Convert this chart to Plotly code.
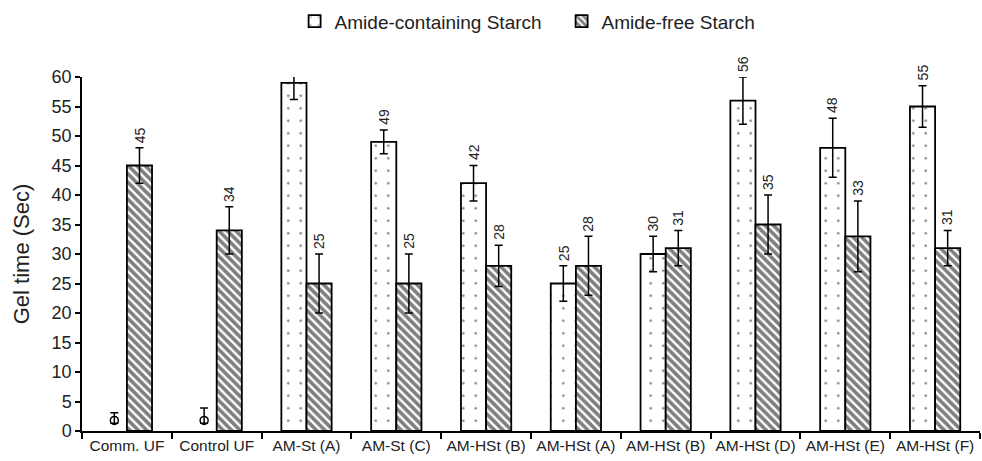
import plotly.graph_objects as go

# ---------------- data ----------------
categories = ["Comm. UF", "Control UF", "AM-St (A)", "AM-St (C)", "AM-HSt (B)",
              "AM-HSt (A)", "AM-HSt (B)", "AM-HSt (D)", "AM-HSt (E)", "AM-HSt (F)"]

amide_containing = [None, None, 59, 49, 42, 25, 30, 56, 48, 55]
amide_containing_err_plus = [None, None, 1.5, 2, 3, 3, 3, 4, 5, 3.5]
amide_containing_err_minus = [None, None, 2.8, 2, 3, 3, 3, 4, 5, 3.5]

amide_free = [45, 34, 25, 25, 28, 28, 31, 35, 33, 31]
amide_free_err = [3, 4, 5, 5, 3.5, 5, 3, 5, 6, 3]

# near-zero points shown as open circles for the UF controls
uf_points = [1.8, 1.8]
uf_points_err_plus = [1.3, 2.1]
uf_points_err_minus = [0.5, 0.5]

y_ticks = list(range(0, 61, 5))

# ---------------- style ----------------
FONT = "Arial, Liberation Sans, sans-serif"
BAR_W = 0.28
idx = list(range(len(categories)))

fig = go.Figure()

fig.add_trace(go.Bar(
    name="Amide-containing Starch",
    x=idx, y=amide_containing, width=BAR_W, offset=-BAR_W,
    marker=dict(color="white", line=dict(color="black", width=1.8),
                pattern=dict(shape=".", size=12.5, solidity=0.035,
                             fgcolor="black", bgcolor="white", fillmode="overlay")),
    error_y=dict(type="data", symmetric=False, array=amide_containing_err_plus,
                 arrayminus=amide_containing_err_minus,
                 color="black", thickness=1.5, width=4),
    cliponaxis=False,
))

fig.add_trace(go.Bar(
    name="Amide-free Starch",
    x=idx, y=amide_free, width=BAR_W, offset=0,
    marker=dict(color="white", line=dict(color="black", width=1.8),
                pattern=dict(shape="\\", size=6, solidity=0.6,
                             fgcolor="black", bgcolor="white", fillmode="overlay")),
    error_y=dict(type="data", array=amide_free_err,
                 color="black", thickness=1.5, width=4),
    cliponaxis=False,
))

fig.add_trace(go.Scatter(
    x=[i - BAR_W / 2 for i in idx[:len(uf_points)]], y=uf_points,
    mode="markers", showlegend=False,
    marker=dict(symbol="circle-open", size=8, color="black", line=dict(width=1.5)),
    error_y=dict(type="data", symmetric=False, array=uf_points_err_plus,
                 arrayminus=uf_points_err_minus, color="black", thickness=1.5, width=4),
))

# value labels above the error bars
for i in idx:
    v = amide_containing[i]
    if v is not None:
        fig.add_annotation(x=i - BAR_W / 2, y=v + amide_containing_err_plus[i],
                           text=str(v), textangle=-90, showarrow=False,
                           yanchor="bottom", xanchor="center", yshift=3,
                           font=dict(family=FONT, size=14, color="#222"))
    v = amide_free[i]
    fig.add_annotation(x=i + BAR_W / 2, y=v + amide_free_err[i],
                       text=str(v), textangle=-90, showarrow=False,
                       yanchor="bottom", xanchor="center", yshift=3,
                       font=dict(family=FONT, size=14, color="#222"))

fig.update_layout(
    width=982, height=461,
    margin=dict(l=82, r=2, t=77, b=30, autoexpand=False),
    paper_bgcolor="white", plot_bgcolor="white",
    barmode="overlay",
    font=dict(family=FONT, color="#222"),
    legend=dict(orientation="h", xref="container", yref="container",
                x=0.30, y=0.995, xanchor="left", yanchor="top",
                font=dict(size=19, family=FONT), entrywidth=222,
                bgcolor="rgba(0,0,0,0)"),
    xaxis=dict(range=[-0.5, len(categories) - 0.5],
               tickvals=idx, ticktext=categories, ticks="",
               tickfont=dict(size=15.5, family=FONT, color="#222"),
               showline=True, linecolor="black", linewidth=1.5,
               showgrid=False, zeroline=False, automargin=False,
               minor=dict(tickvals=[i - 0.5 for i in range(len(categories) + 1)],
                          ticks="outside", ticklen=6, tickcolor="black",
                          tickwidth=1.5, showgrid=False)),
    yaxis=dict(range=[0, 60], tickvals=y_ticks,
               ticks="outside", ticklen=5, tickcolor="black", tickwidth=1.5,
               tickfont=dict(size=18, family=FONT, color="#222"),
               showline=True, linecolor="black", linewidth=1.5,
               showgrid=False, zeroline=False, automargin=False,
               title=dict(text="Gel time (Sec)", font=dict(size=22, family=FONT, color="#222"),
                          standoff=16)),
)

fig.write_html("out.html", config={"displayModeBar": False},
               post_script="document.body.style.margin='0';")
